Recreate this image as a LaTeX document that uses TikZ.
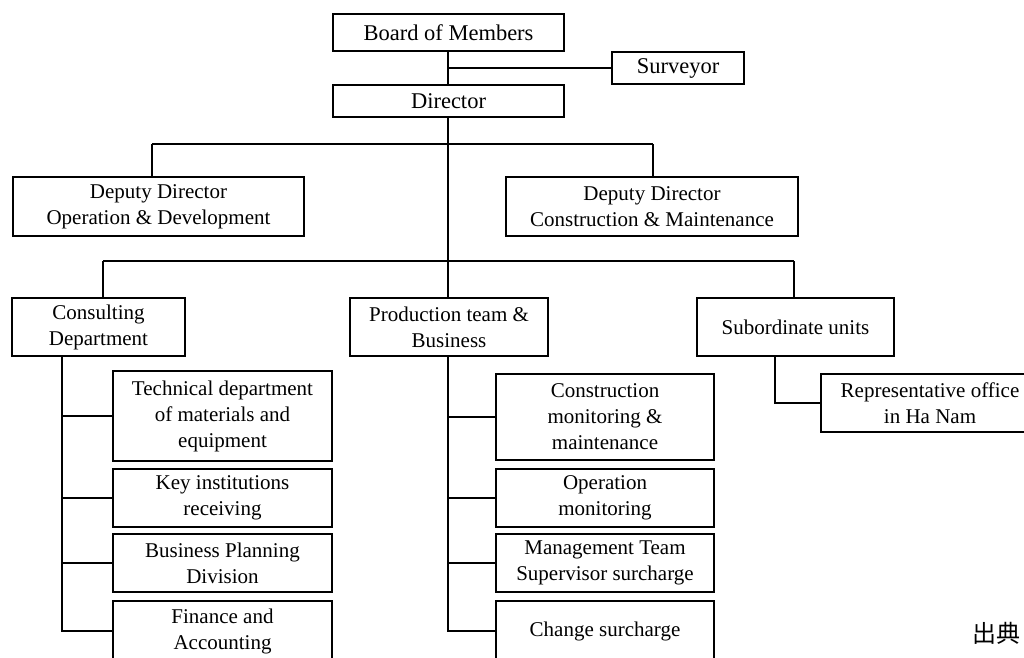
\documentclass[tikz,border=0pt]{standalone}
\usepackage{fontspec}
\setmainfont{Liberation Serif}
\newfontfamily\cjkfont{Noto Sans CJK JP}
\begin{document}
\begin{tikzpicture}[x=1pt,y=-1pt,
  unit/.style={draw=black,line width=1.8pt,inner sep=0pt,outer sep=0pt,
    align=center,font=\fontsize{21}{26}\selectfont},
  headunit/.style={unit,font=\fontsize{22.5}{26}\selectfont},
  link/.style={draw=black,line width=2pt}]
\useasboundingbox (0,0) rectangle (1024,657);
\clip (0,0) rectangle (1024,657);

% top level
\node[headunit,minimum width=231pt,minimum height=37pt] (board) at (448.5,32.5) {Board of Members};
\node[headunit,minimum width=132pt,minimum height=32pt] (surv) at (678,68) {Surveyor};
\node[headunit,minimum width=231pt,minimum height=32pt] (dir) at (448.5,101) {Director};

% deputies
\node[unit,minimum width=291pt,minimum height=59pt] (depL) at (158.5,206.5) {Deputy Director\\Operation \& Development};
\node[unit,minimum width=292pt,minimum height=59pt] (depR) at (652,206.5) {Deputy Director\\Construction \& Maintenance};

% departments
\node[unit,minimum width=173pt,minimum height=58pt] (cons) at (98.5,327) {Consulting\\Department};
\node[unit,minimum width=198pt,minimum height=58pt] (prod) at (449,327) {Production team \&\\Business};
\node[unit,minimum width=197pt,minimum height=58pt] (sub) at (795.5,327) {Subordinate units};
\node[unit,minimum width=218pt,minimum height=58pt] (rep) at (930,403) {Representative office\\in Ha Nam};

% consulting sections
\node[unit,minimum width=219pt,minimum height=90pt] (tech) at (222.5,416) {Technical department\\of materials and\\equipment};
\node[unit,minimum width=219pt,minimum height=58pt] (key) at (222.5,498) {Key institutions\\receiving};
\node[unit,minimum width=219pt,minimum height=58pt] (bpd) at (222.5,563) {Business Planning\\Division};
\node[unit,minimum width=219pt,minimum height=60pt] (fin) at (222.5,631) {Finance and\\Accounting};

% production sections
\node[unit,minimum width=218pt,minimum height=86pt] (cmm) at (605,417) {Construction\\monitoring \&\\maintenance};
\node[unit,minimum width=218pt,minimum height=58pt] (opm) at (605,498) {Operation\\monitoring};
\node[unit,minimum width=218pt,minimum height=58pt] (mts) at (605,563) {Management Team\\Supervisor surcharge};
\node[unit,minimum width=218pt,minimum height=60pt] (chg) at (605,631) {Change surcharge};

% bus coordinates
\coordinate (trunk) at (448,0);
\coordinate (busA) at (448,144);
\coordinate (busAL) at (152,144);
\coordinate (busAR) at (653,144);
\coordinate (busB) at (448,261);
\coordinate (busBL) at (103,261);
\coordinate (busBR) at (794,261);
\coordinate (colL) at (62,0);
\coordinate (colM) at (448,0);
\coordinate (colS) at (775,0);

% connectors
\draw[link] (trunk |- board.south) -- (trunk |- dir.north);
\draw[link] (trunk |- surv.west) -- (surv.west);
\draw[link] (trunk |- dir.south) -- (busB);
\draw[link] (busAL) -- (busAR);
\draw[link] (busAL) -- (busAL |- depL.north);
\draw[link] (busAR) -- (busAR |- depR.north);
\draw[link] (busBL) -- (busBR);
\draw[link] (busBL) -- (busBL |- cons.north);
\draw[link] (busB) -- (busB |- prod.north);
\draw[link] (busBR) -- (busBR |- sub.north);

\draw[link] (colL |- cons.south) |- (fin.west);
\draw[link] (colL |- tech.west) -- (tech.west);
\draw[link] (colL |- key.west) -- (key.west);
\draw[link] (colL |- bpd.west) -- (bpd.west);

\draw[link] (colM |- prod.south) |- (chg.west);
\draw[link] (colM |- cmm.west) -- (cmm.west);
\draw[link] (colM |- opm.west) -- (opm.west);
\draw[link] (colM |- mts.west) -- (mts.west);

\draw[link] (colS |- sub.south) |- (rep.west);

% source note
\node[anchor=west,inner sep=0pt,font=\cjkfont\fontsize{24}{24}\selectfont] (src) at (972,633) {出典};
\end{tikzpicture}
\end{document}
